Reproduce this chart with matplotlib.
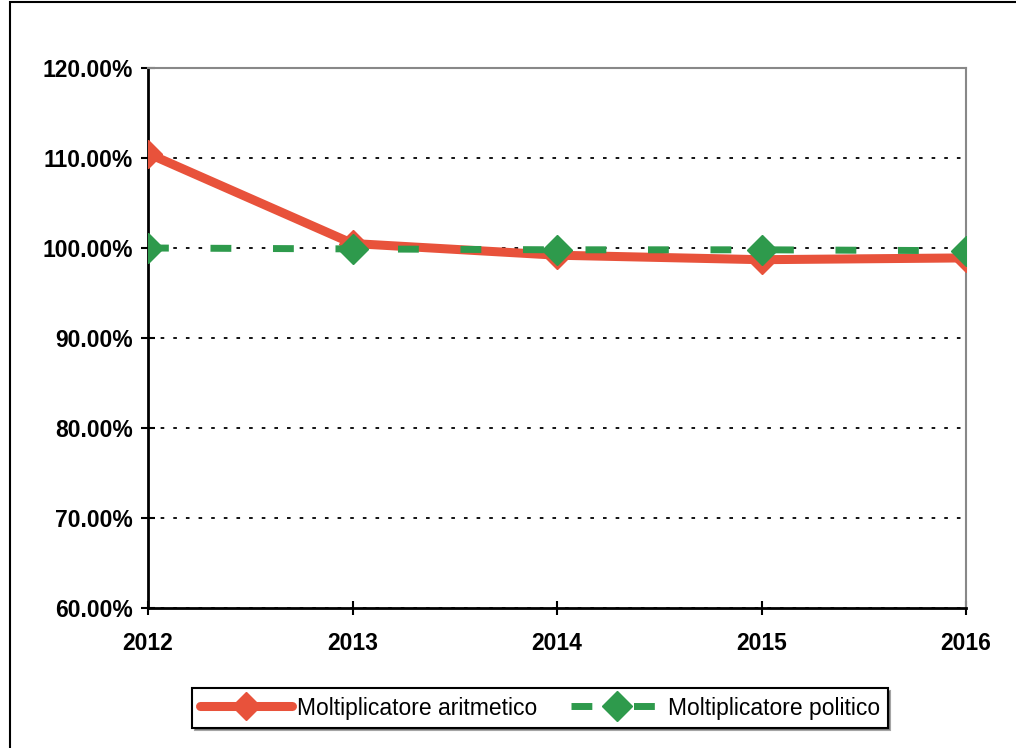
import matplotlib.pyplot as plt
from matplotlib.patches import Rectangle
from matplotlib.ticker import FuncFormatter

plt.rcParams['font.family'] = ['Liberation Sans', 'DejaVu Sans']

anni = ['2012', '2013', '2014', '2015', '2016']
aritmetico = [110.5, 100.5, 99.2, 98.7, 98.9]
politico = [100.0, 99.9, 99.8, 99.8, 99.7]

fig = plt.figure(figsize=(10.16, 7.48), dpi=100)
ax = fig.add_axes([148 / 1016, 1 - 608 / 748, (966 - 148) / 1016, 540 / 748])

x = range(len(anni))
ax.plot(x, aritmetico, color='#E8523B', lw=6.5, marker='D', ms=14,
        solid_capstyle='round', label='Moltiplicatore aritmetico', zorder=3)
ax.plot(x, politico, color='#2E9A4C', lw=5, ls=(0, (3, 6)), marker='D', ms=15,
        label='Moltiplicatore politico', zorder=4)

ax.set_xlim(0, len(anni) - 1)
ax.set_ylim(60, 120)
ax.set_xticks(list(x))
ax.set_xticklabels(anni)
ax.set_yticks(range(60, 121, 10))
ax.yaxis.set_major_formatter(FuncFormatter(lambda v, p: f'{v:.2f}%'))
ax.grid(axis='y', color='black', ls=(0, (2, 5)), lw=1.3)
for lbl in ax.get_xticklabels() + ax.get_yticklabels():
    lbl.set_fontweight('bold')
    lbl.set_fontsize(16.5)
ax.tick_params(axis='both', direction='inout', length=10, width=1.5, pad=6)
ax.tick_params(axis='x', pad=12)
ax.spines['left'].set_linewidth(2)
ax.spines['bottom'].set_linewidth(2)
ax.spines['top'].set_color('#888888')
ax.spines['right'].set_color('#888888')
ax.spines['top'].set_linewidth(1.5)
ax.spines['right'].set_linewidth(1.5)

# outer chart border
fig.patches.append(Rectangle((10 / 1016, -0.1), 1.2, 1 - 2 / 748 + 0.1, transform=fig.transFigure,
                             fill=False, ec='black', lw=1.5))

leg = fig.legend(loc='center', bbox_to_anchor=(540 / 1016, 1 - 708 / 748), ncol=2,
                 fontsize=16.5, frameon=True, fancybox=False, shadow=True,
                 handlelength=4.0, columnspacing=1.5, handletextpad=0.2,
                 borderpad=0.35)
leg.get_frame().set_edgecolor('black')
leg.get_frame().set_linewidth(1.5)

fig.savefig('out.png', dpi=100)
